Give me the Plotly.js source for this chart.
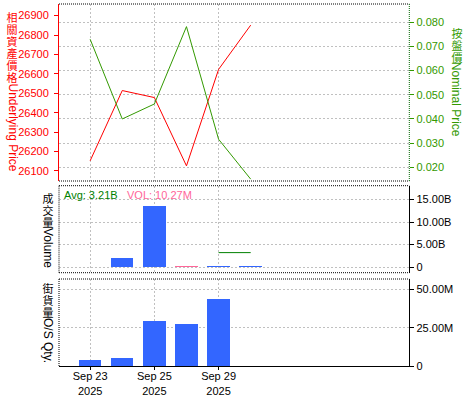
<!DOCTYPE html>
<html><head><meta charset="utf-8">
<script src="https://cdn.plot.ly/plotly-3.0.1.min.js"></script>
<style>html,body{margin:0;padding:0;background:#fff}#chart{width:475px;height:400px}</style>
</head><body><div id="chart"></div>
<script>
// ---- data ----
const dates = ['Sep 23','Sep 24','Sep 25','Sep 26','Sep 29','Sep 30'];
const tickDates = ['Sep 23','Sep 25','Sep 29'];
const tickLabels = ['Sep 23<br>2025','Sep 25<br>2025','Sep 29<br>2025'];
const underlying = [26152, 26514, 26478, 26126, 26623, 26851];
const nominal = [0.0730, 0.0400, 0.0462, 0.0782, 0.0316, 0.0151];
const volume = [null, 2.0e9, 13.5e9, 0.25e9, 0.25e9, 0.25e9];
const volumeAvg = 3.21e9;
const avgSpan = ['Sep 29','Sep 30'];
const osQty = [3.7e6, 5.2e6, 29.3e6, 27.3e6, 43.6e6, null];
const volTicks = [0, 5e9, 10e9, 15e9];
const volTickText = ['0','5.00B','10.00B','15.00B'];
const osTicks = [0, 25e6, 50e6];
const osTickText = ['0','25.00M','50.00M'];
const avgLabel = 'Avg: 3.21B';
const volLabel = 'VOL: 10.27M';

// ---- styles ----
const W = 475, H = 400;
const FONT = 'Liberation Sans, Arial, sans-serif';
const CJK = 'Noto Sans CJK TC, Noto Sans CJK SC, sans-serif';
const RED = '#ff0000', GREEN = '#339900', BLUE = '#3366ff', PINK = '#ff6699', DKGREEN = '#008000';
const GRID = '#c0c0c0';
const px = x => x / W, py = y => 1 - y / H;
const XD = [px(59), px(409.3)];
const D1 = [py(181), py(4)], D2 = [py(272.7), py(185.7)], D3 = [py(366), py(279)];
const XR = [-0.97, 9.94];
const volColors = volume.map((v, i) => dates[i] === 'Sep 26' ? PINK : BLUE);

const traces = [
  {x: dates, y: underlying, type: 'scatter', mode: 'lines', xaxis: 'x', yaxis: 'y',
   line: {color: RED, width: 1}, hoverinfo: 'skip'},
  {x: dates, y: nominal, type: 'scatter', mode: 'lines', xaxis: 'x', yaxis: 'y2',
   line: {color: GREEN, width: 1}, hoverinfo: 'skip'},
  {x: dates, y: volume, type: 'bar', xaxis: 'x2', yaxis: 'y3', width: 0.7,
   marker: {color: volColors, line: {width: 0}}, hoverinfo: 'skip'},
  {x: avgSpan, y: avgSpan.map(() => volumeAvg), type: 'scatter', mode: 'lines', xaxis: 'x2', yaxis: 'y3',
   line: {color: DKGREEN, width: 1}, hoverinfo: 'skip'},
  {x: dates, y: osQty, type: 'bar', xaxis: 'x3', yaxis: 'y4', width: 0.7,
   marker: {color: BLUE, line: {width: 0}}, hoverinfo: 'skip'}
];

const xcommon = {type: 'category', categoryorder: 'array', categoryarray: dates, range: XR,
  domain: XD, tickvals: tickDates, showgrid: true, gridcolor: GRID, griddash: '2px,2px', gridwidth: 1,
  zeroline: false, fixedrange: true};

const dotFrame = (x0, y0, x1, y1, color) => ({type: 'line', xref: 'paper', yref: 'paper',
  x0, y0, x1, y1, line: {color: color || '#000', width: 1, dash: '1px,1px'}});

const shapes = [
  dotFrame(XD[0], D1[1], XD[1], D1[1]),
  dotFrame(XD[0], D1[0], XD[1], D1[0]),
  dotFrame(XD[1], D1[0], XD[1], D1[1], '#006600'),
  dotFrame(XD[0], D2[1], XD[1], D2[1]),
  dotFrame(XD[0], D2[0], XD[1], D2[0]),
  dotFrame(XD[0], D2[0], XD[0], D2[1]),
  dotFrame(XD[0], D3[1], XD[1], D3[1]),
  dotFrame(XD[0], D3[0], XD[0], D3[1])
];

// vertical title: upright stacked CJK characters + rotated Latin part
function vtitle(cjk, latin, xpx, firstY, step, latinY, color) {
  const out = [];
  [...cjk].forEach((ch, i) => out.push({text: ch, xref: 'paper', yref: 'paper',
    x: px(xpx), y: py(firstY + i * step), xanchor: 'center', yanchor: 'middle', showarrow: false,
    width: 12, height: 12, borderpad: 0, font: {family: CJK, size: 11, color}}));
  out.push({text: latin, xref: 'paper', yref: 'paper', x: px(xpx), y: py(latinY), textangle: 90,
    xanchor: 'center', yanchor: 'middle', showarrow: false, borderpad: 0,
    font: {family: FONT, size: 12, color}});
  return out;
}

const annotations = [
  ...vtitle('相關資產價格', 'Underlying Price', 12, 16.7, 12, 127.5, RED),
  ...vtitle('按盤價', 'Nominal Price', 456.7, 33, 12, 99.5, GREEN),
  ...vtitle('成交量', 'Volume', 48, 198, 12, 248, '#000'),
  ...vtitle('街貨量', 'O/S Qty.', 48, 288, 12, 340, '#000'),
  {text: avgLabel, xref: 'paper', yref: 'paper', x: px(61.5), y: py(195.3), xanchor: 'left', yanchor: 'middle',
   showarrow: false, font: {family: FONT, size: 11, color: DKGREEN}},
  {text: volLabel, xref: 'paper', yref: 'paper', x: px(124.5), y: py(195.3), xanchor: 'left', yanchor: 'middle',
   showarrow: false, font: {family: FONT, size: 11, color: PINK}}
];

const layout = {
  width: W, height: H, margin: {l: 0, r: 0, t: 0, b: 0}, paper_bgcolor: '#fff', plot_bgcolor: '#fff',
  showlegend: false, bargap: 0,
  xaxis: Object.assign({}, xcommon, {anchor: 'y', showticklabels: false, ticks: ''}),
  xaxis2: Object.assign({}, xcommon, {anchor: 'y3', showticklabels: false, ticks: ''}),
  xaxis3: Object.assign({}, xcommon, {anchor: 'y4', ticktext: tickLabels, ticks: 'outside', ticklen: 3,
    tickcolor: '#000', showline: true, linecolor: '#000', linewidth: 1, ticklabelstandoff: -3,
    tickfont: {family: FONT, size: 11, color: '#000'}}),
  yaxis: {domain: D1, anchor: 'x', range: [26048, 26960], tick0: 26000, dtick: 100, tickformat: 'd', side: 'left',
    showgrid: false, zeroline: false, showline: true, linecolor: RED, linewidth: 1, ticklabelstandoff: 3,
    ticks: 'outside', ticklen: 4, tickcolor: RED, tickfont: {family: FONT, size: 11, color: RED}, fixedrange: true},
  yaxis2: {domain: D1, anchor: 'x', overlaying: 'y', side: 'right', range: [0.01433, 0.08757], tick0: 0, dtick: 0.01,
    tickformat: '.3f', showgrid: true, gridcolor: GRID, griddash: '2px,2px', zeroline: false, showline: false,
    ticks: 'outside', ticklen: 4, tickcolor: GREEN, tickfont: {family: FONT, size: 11, color: GREEN}, fixedrange: true},
  yaxis3: {domain: D2, anchor: 'x2', side: 'right', range: [-1.26e9, 18.1e9], tickvals: volTicks, ticktext: volTickText,
    showgrid: true, gridcolor: GRID, griddash: '2px,2px', zeroline: false, showline: true, linecolor: '#000',
    ticks: 'outside', ticklen: 4, tickcolor: '#000', tickfont: {family: FONT, size: 11, color: '#000'}, fixedrange: true},
  yaxis4: {domain: D3, anchor: 'x3', side: 'right', range: [0, 56.8e6], tickvals: osTicks, ticktext: osTickText,
    showgrid: true, gridcolor: GRID, griddash: '2px,2px', zeroline: false, showline: true, linecolor: '#000',
    ticks: 'outside', ticklen: 4, tickcolor: '#000', tickfont: {family: FONT, size: 11, color: '#000'}, fixedrange: true},
  shapes, annotations
};

Plotly.newPlot('chart', traces, layout, {staticPlot: true, displayModeBar: false});
</script></body></html>
